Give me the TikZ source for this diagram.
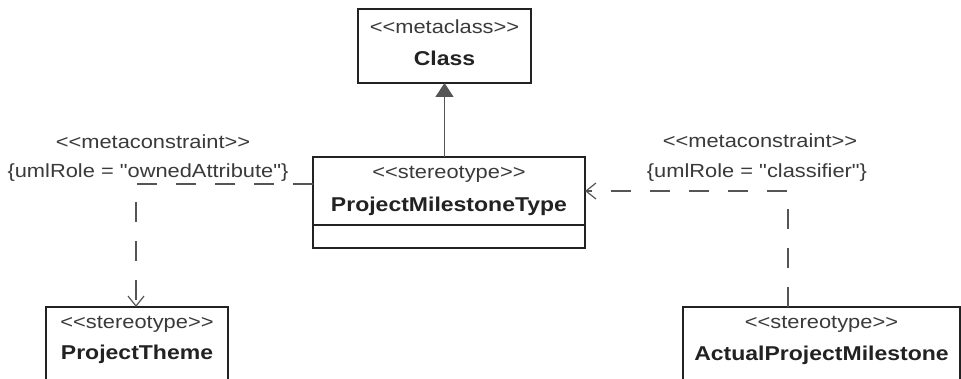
\documentclass[tikz,border=0pt]{standalone}
\usepackage{fontspec}
\setmainfont{Liberation Sans}[FakeStretch=1.15,Ligatures=TeXOff]
\usetikzlibrary{arrows.meta}
\definecolor{linec}{HTML}{222222}
\definecolor{txtc}{HTML}{3A3A3A}
\definecolor{conc}{HTML}{555555}
\begin{document}
\begin{tikzpicture}[x=1pt,y=-1pt,
  box/.style={draw=linec,line width=1.7pt,fill=white,inner sep=0pt,outer sep=0pt,rectangle},
  stereo/.style={text=txtc,font=\fontsize{19}{22}\selectfont,inner sep=0pt,anchor=center},
  bname/.style={text=linec,font=\fontsize{20}{22}\selectfont\bfseries,inner sep=0pt,anchor=center},
  dep/.style={draw=conc,line width=1.3pt,dash pattern=on 20pt off 19pt,-{Straight Barb[length=10pt,width=16pt,line width=1.2pt]}},
  gen/.style={draw=conc,line width=1.5pt,-{Triangle[length=14pt,width=18pt,fill=conc]}}]
\useasboundingbox (0,0) rectangle (961,379);
\clip (0,0) rectangle (961,379);
\fill[white] (0,0) rectangle (961,379);
% boxes
\node[box,minimum width=173pt,minimum height=74pt] (cls) at (444.5,46) {};
\node[box,minimum width=272pt,minimum height=91pt] (pmt) at (449,202.5) {};
\draw[linec,line width=1.7pt] (pmt.west |- 0,225) coordinate (dl) -- (pmt.east |- 0,225) coordinate (dr);
\node[box,minimum width=182pt,minimum height=90pt] (pt) at (137,352) {};
\node[box,minimum width=277pt,minimum height=90pt] (apm) at (821.5,352) {};
% texts
\node[stereo] (clsS) at (444.5,27) {<<metaclass>>};
\node[bname] (clsN) at (444.5,58) {Class};
\node[stereo] (pmtS) at (449,174) {<<stereotype>>};
\node[bname] (pmtN) at (449,206) {ProjectMilestoneType};
\node[stereo] (ptS) at (137,324) {<<stereotype>>};
\node[bname] (ptN) at (137,354) {ProjectTheme};
\node[stereo] (apmS) at (821.5,324) {<<stereotype>>};
\node[bname] (apmN) at (821.5,355) {ActualProjectMilestone};
\node[stereo] (lc1) at (153,142) {<<metaconstraint>>};
\node[stereo] (lc2) at (148,173) {\{umlRole = "ownedAttribute"\}};
\node[stereo] (rc1) at (760,141) {<<metaconstraint>>};
\node[stereo] (rc2) at (757,173) {\{umlRole = "classifier"\}};
% connectors
\draw[gen] (pmt.north -| cls.south) -- (cls.south);
\coordinate (lcorner) at (136,184);
\draw[dep] (pmt.west |- lcorner) -- (lcorner) -- (lcorner |- pt.north);
\coordinate (rcorner) at (788,191);
\draw[dep] (rcorner |- apm.north) -- (rcorner) -- (pmt.east |- rcorner);
\end{tikzpicture}
\end{document}
